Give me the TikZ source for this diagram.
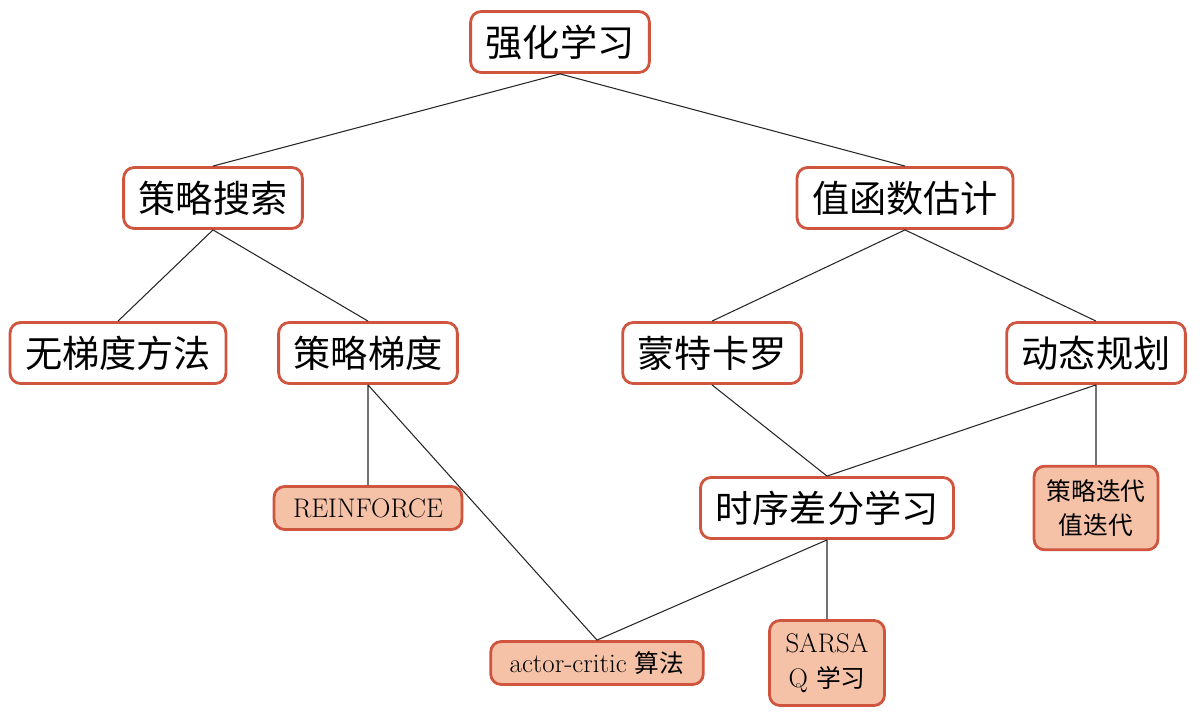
\documentclass[tikz,border=0pt]{standalone}
\usepackage{fontspec}
\newfontfamily\cjk[Scale=0.92]{Noto Sans CJK SC}
\usetikzlibrary{positioning}
\definecolor{boxred}{HTML}{D0553F}
\definecolor{boxfill}{HTML}{F5C2A8}
\begin{document}
\begin{tikzpicture}[x=0.02cm, y=-0.02cm,
  topic/.style={draw=boxred, line width=1.6pt, rounded corners=6pt, fill=white,
    font=\fontsize{23}{27}\selectfont\cjk, minimum height=1.22cm, inner xsep=0.3cm},
  algo/.style={draw=boxred, line width=1.6pt, rounded corners=6pt, fill=boxfill,
    font=\fontsize{15.3}{19.8}\selectfont, align=center, inner xsep=0.38cm,
    inner ysep=0.17cm, minimum height=0.86cm},
  twoline/.style={inner ysep=0.26cm},
  link/.style={draw=black!85, line width=0.6pt}]
\useasboundingbox (0,0) rectangle (1200,712);
% tree levels
\node[topic] (rl) at (560,42) {强化学习};
\node[topic] (ps) at (213,198) {策略搜索};
\node[topic] (vf) at (905,198) {值函数估计};
\node[topic] (gf) at (118,353) {无梯度方法};
\node[topic] (pg) at (368,353) {策略梯度};
\node[topic] (mc) at (712,353) {蒙特卡罗};
\node[topic] (dp) at (1096,353) {动态规划};
\node[topic] (td) at (827,508) {时序差分学习};
% algorithms
\node[algo] (rf) at (368,508) {REINFORCE};
\node[algo, twoline, inner xsep=0.25cm] (pi) at (1096,508) {{\cjk 策略迭代}\\{\cjk 值迭代}};
\node[algo] (ac) at (597,663) {actor-critic {\cjk 算法}};
\node[algo, twoline, inner xsep=0.32cm] (sq) at (827,663) {SARSA\\Q {\cjk 学习}};
% links
\path[link] (rl.south) -- (ps.north) (rl.south) -- (vf.north)
  (ps.south) -- (gf.north) (ps.south) -- (pg.north)
  (vf.south) -- (mc.north) (vf.south) -- (dp.north)
  (pg.south) -- (rf.north) (pg.south) -- (ac.north)
  (mc.south) -- (td.north) (dp.south) -- (td.north) (dp.south) -- (pi.north)
  (td.south) -- (ac.north) (td.south) -- (sq.north);
\end{tikzpicture}
\end{document}
